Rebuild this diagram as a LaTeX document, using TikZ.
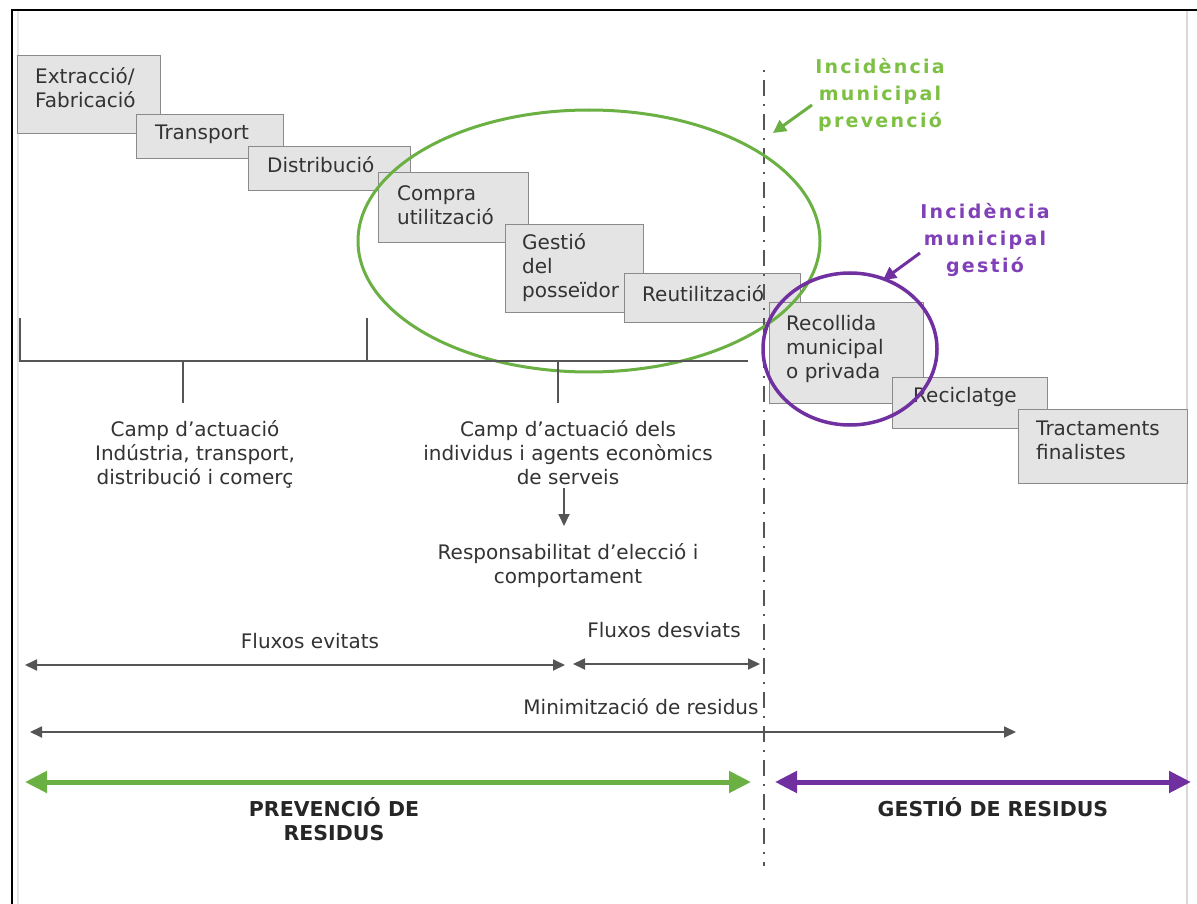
\documentclass[tikz,border=0pt]{standalone}
\usepackage{fontspec}
\setmainfont{DejaVu Sans}
\newfontfamily\lletraample[LetterSpace=12]{DejaVu Sans}
\usetikzlibrary{positioning,arrows.meta,shapes.geometric}
\definecolor{verd}{HTML}{6AB043}
\definecolor{verdclar}{HTML}{7DC043}
\definecolor{lila}{HTML}{7030A0}
\definecolor{lilaclar}{HTML}{8040B8}
\definecolor{fons}{HTML}{E4E4E4}
\definecolor{vora}{HTML}{8A8A8A}
\definecolor{linia}{HTML}{555555}
\definecolor{textfosc}{HTML}{333333}

\begin{document}
\begin{tikzpicture}[x=1pt,y=-1pt,
  caixa/.style={draw=vora,fill=fons,line width=1.4pt,anchor=north west,inner sep=0pt},
  textcaixa/.style={anchor=north west,inner sep=0pt,align=left,text=textfosc,font=\fontsize{20}{24}\selectfont},
  peu/.style={anchor=north,inner sep=0pt,align=center,text=textfosc,font=\fontsize{20}{24}\selectfont},
  titol/.style={anchor=north,inner sep=0pt,align=center,text=black!85,font=\bfseries\fontsize{20.5}{24}\selectfont},
  incidencia/.style={anchor=north,inner sep=0pt,align=center,font=\lletraample\bfseries\fontsize{19}{27}\selectfont},
  fletxa/.style={draw=linia,line width=1.8pt,{Triangle[length=12pt,width=11pt]}-{Triangle[length=12pt,width=11pt]}},
  fletxagruixuda/.style={line width=5pt,{Triangle[length=22pt,width=21pt]}-{Triangle[length=22pt,width=21pt]}},
]
\useasboundingbox (0,0) rectangle (1197,904);
\fill[white] (0,0) rectangle (1197,904);

% marc
\draw[black,line width=2.5pt] (12,904) -- (12,10) -- (1197,10);
\draw[black!15,line width=2pt] (1187,11) -- (1187,904);
\draw[black!10,line width=1.5pt] (18,11) -- (18,904);

% cadena de caixes
\node[caixa,minimum width=143,minimum height=78] (extraccio) at (17,55) {};
\node[textcaixa] (textextraccio) at (35,67) {Extracció/\\Fabricació};
\node[caixa,minimum width=147,minimum height=44] (transport) at (136,114) {};
\node[textcaixa] (texttransport) at (155,125) {Transport};
\node[caixa,minimum width=162,minimum height=44] (distribucio) at (248,146) {};
\node[textcaixa] (textdistribucio) at (267,156) {Distribució};
\node[caixa,minimum width=150,minimum height=70] (compra) at (378,172) {};
\node[textcaixa] (textcompra) at (397,185) {Compra\\utilització};
\node[caixa,minimum width=138,minimum height=88] (gestio) at (505,224) {};
\node[textcaixa] (textgestio) at (522,233) {Gestió\\del\\posseïdor};
\node[caixa,minimum width=176,minimum height=49] (reutilitzacio) at (624,273) {};
\node[textcaixa] (textreutilitzacio) at (642,285) {Reutilització};
\node[caixa,minimum width=154,minimum height=101] (recollida) at (769,302) {};
\node[textcaixa] (textrecollida) at (786,315) {Recollida\\municipal\\o privada};
\node[caixa,minimum width=155,minimum height=51] (reciclatge) at (892,377) {};
\node[textcaixa] (textreciclatge) at (913,387) {Reciclatge};
\node[caixa,minimum width=169,minimum height=74] (tractaments) at (1018,409) {};
\node[textcaixa] (texttractaments) at (1036,421) {Tractaments\\finalistes};

% separacio prevencio / gestio
\draw[linia,line width=1.8pt,dash pattern=on 2pt off 8pt on 16pt off 8pt] (764,70) -- (764,866);

% cercles d'incidencia
\node[draw=verd,line width=3pt,ellipse,minimum width=462,minimum height=262,inner sep=0pt] (cercleverd) at (589,241) {};
\node[draw=lila,line width=3.5pt,ellipse,minimum width=174,minimum height=152,inner sep=0pt] (cerclelila) at (850,349) {};
\node[incidencia,text=verdclar] (incprevencio) at (880,58) {Incidència\\municipal\\prevenció};
\node[incidencia,text=lilaclar] (incgestio) at (985,203) {Incidència\\municipal\\gestió};
\coordinate (puntverd) at (773,133);
\coordinate (puntlila) at (883,280);
\draw[verd,line width=3pt,-{Triangle[length=13pt,width=13pt]}] (812,105) -- (puntverd);
\draw[lila,line width=3pt,-{Triangle[length=13pt,width=13pt]}] (920,253) -- (puntlila);

% camps d'actuacio
\draw[linia,line width=1.8pt] (20,318) -- (20,361) -- (748,361);
\draw[linia,line width=1.8pt] (367,318) -- (367,361);
\draw[linia,line width=1.8pt] (183,361) -- (183,403);
\draw[linia,line width=1.8pt] (558,361) -- (558,403);
\node[peu] (camp1) at (195,420) {Camp d’actuació\\Indústria, transport,\\distribució i comerç};
\node[peu] (camp2) at (568,420) {Camp d’actuació dels\\individus i agents econòmics\\de serveis};
\node[peu] (responsabilitat) at (568,543) {Responsabilitat d’elecció i\\comportament};
\coordinate (iniciresp) at (564,488);
\draw[linia,line width=1.8pt,-{Triangle[length=12pt,width=11pt]}] (iniciresp) -- (564,526);

% fluxos
\node[peu] (evitats) at (310,633) {Fluxos evitats};
\node[peu] (desviats) at (664,622) {Fluxos desviats};
\node[peu] (minimitzacio) at (641,698) {Minimització de residus};
\coordinate (evitatsA) at (25,665);
\coordinate (evitatsB) at (565,665);
\coordinate (desviatsA) at (573,664);
\coordinate (desviatsB) at (760,664);
\coordinate (minimA) at (30,732);
\coordinate (minimB) at (1016,732);
\draw[fletxa] (evitatsA) -- (evitatsB);
\draw[fletxa] (desviatsA) -- (desviatsB);
\draw[fletxa] (minimA) -- (minimB);

% prevencio i gestio
\coordinate (prevA) at (25,782);
\coordinate (prevB) at (751,782);
\coordinate (gestA) at (775,782);
\coordinate (gestB) at (1191,782);
\draw[fletxagruixuda,verd] (prevA) -- (prevB);
\draw[fletxagruixuda,lila] (gestA) -- (gestB);
\node[titol] (prevencio) at (334,797) {PREVENCIÓ DE\\RESIDUS};
\node[titol] (gestioresidus) at (993,797) {GESTIÓ DE RESIDUS};
\end{tikzpicture}
\end{document}
